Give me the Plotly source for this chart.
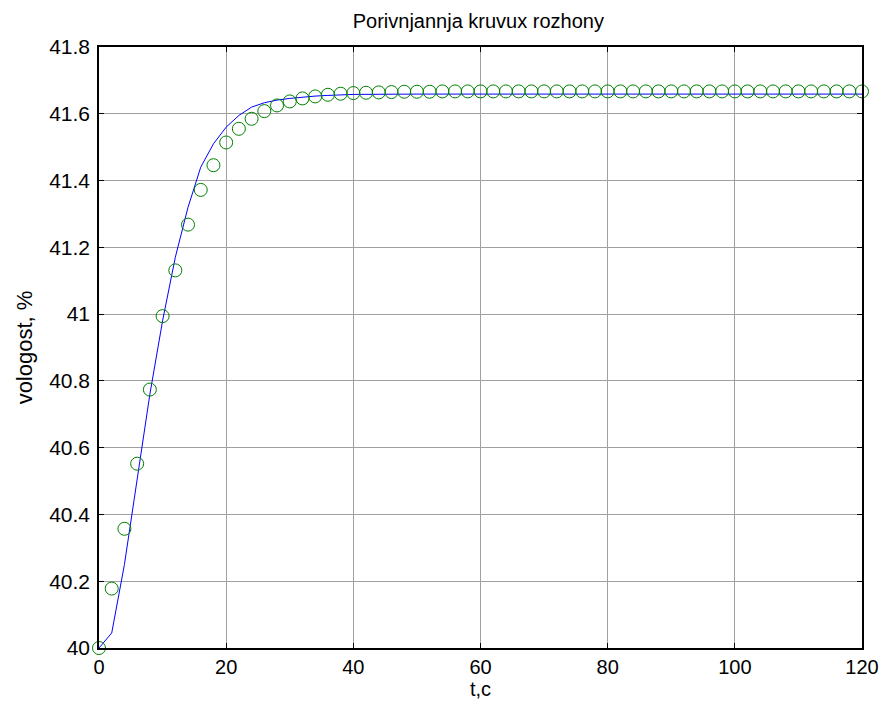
import plotly.graph_objects as go

# model curve (blue line)
t_line = [0, 2, 4, 6, 8, 10, 12, 14, 16, 18, 20, 22, 24, 26, 28, 30, 32, 34, 36, 38,
          40, 50, 60, 70, 80, 90, 100, 110, 120]
y_line = [40.0, 40.045, 40.25, 40.50, 40.76, 40.98, 41.17, 41.32, 41.44, 41.51, 41.56,
          41.595, 41.62, 41.633, 41.641, 41.646, 41.65, 41.653, 41.655, 41.657,
          41.658, 41.659, 41.659, 41.659, 41.659, 41.659, 41.659, 41.659, 41.659]

# experimental points (green circles), t = 0, 2, ..., 120
t_pts = list(range(0, 121, 2))
y_pts = [40.0, 40.178, 40.357, 40.552, 40.774, 40.994, 41.131, 41.268, 41.372, 41.446,
         41.514, 41.555, 41.585, 41.608, 41.625, 41.637, 41.646, 41.652, 41.657, 41.660,
         41.662, 41.663, 41.664, 41.665, 41.666, 41.666, 41.666, 41.667, 41.667, 41.667,
         41.667, 41.667, 41.667, 41.667, 41.667, 41.667, 41.667, 41.667, 41.667, 41.667,
         41.667, 41.667, 41.667, 41.667, 41.667, 41.667, 41.667, 41.667, 41.667, 41.667,
         41.667, 41.667, 41.667, 41.667, 41.667, 41.667, 41.667, 41.667, 41.667, 41.667,
         41.667]

x_ticks = [0, 20, 40, 60, 80, 100, 120]
y_ticks = [40, 40.2, 40.4, 40.6, 40.8, 41, 41.2, 41.4, 41.6, 41.8]
y_tick_text = ["40", "40.2", "40.4", "40.6", "40.8", "41", "41.2", "41.4", "41.6", "41.8"]

fig = go.Figure()
fig.add_trace(go.Scatter(x=t_line, y=y_line, mode="lines",
                         line=dict(color="#0000ff", width=1), showlegend=False))
fig.add_trace(go.Scatter(x=t_pts, y=y_pts, mode="markers",
                         marker=dict(symbol="circle-open", size=13, color="#008000",
                                     line=dict(width=1, color="#008000")),
                         showlegend=False, cliponaxis=False))

font = "Liberation Sans, Arial, sans-serif"
axis_common = dict(showline=True, linecolor="black", linewidth=1.5, mirror="ticks",
                   ticks="inside", ticklen=5, tickcolor="black", tickwidth=1,
                   showgrid=True, gridcolor="#a0a0a0", gridwidth=1, zeroline=False,
                   automargin=False)

fig.update_layout(
    width=883, height=708,
    margin=dict(l=99, r=21, t=47, b=60),
    paper_bgcolor="white", plot_bgcolor="white",
    title=dict(text="Porivnjannja kruvux rozhony", x=0.5417, xanchor="center",
               y=0.97, yanchor="middle",
               font=dict(family=font, size=20, color="black")),
    xaxis=dict(range=[0, 120], tickvals=x_ticks, ticktext=[str(v) for v in x_ticks],
               tickfont=dict(family=font, size=20, color="black"),
               title=dict(text="t,c", font=dict(family=font, size=20, color="black"), standoff=4),
               **axis_common),
    yaxis=dict(range=[40, 41.8], tickvals=y_ticks, ticktext=y_tick_text,
               tickfont=dict(family=font, size=21, color="black"), ticklabelstandoff=3,
               title=dict(text="vologost, %", font=dict(family=font, size=22, color="black"), standoff=10),
               **axis_common),
)

fig.write_html("out.html")
